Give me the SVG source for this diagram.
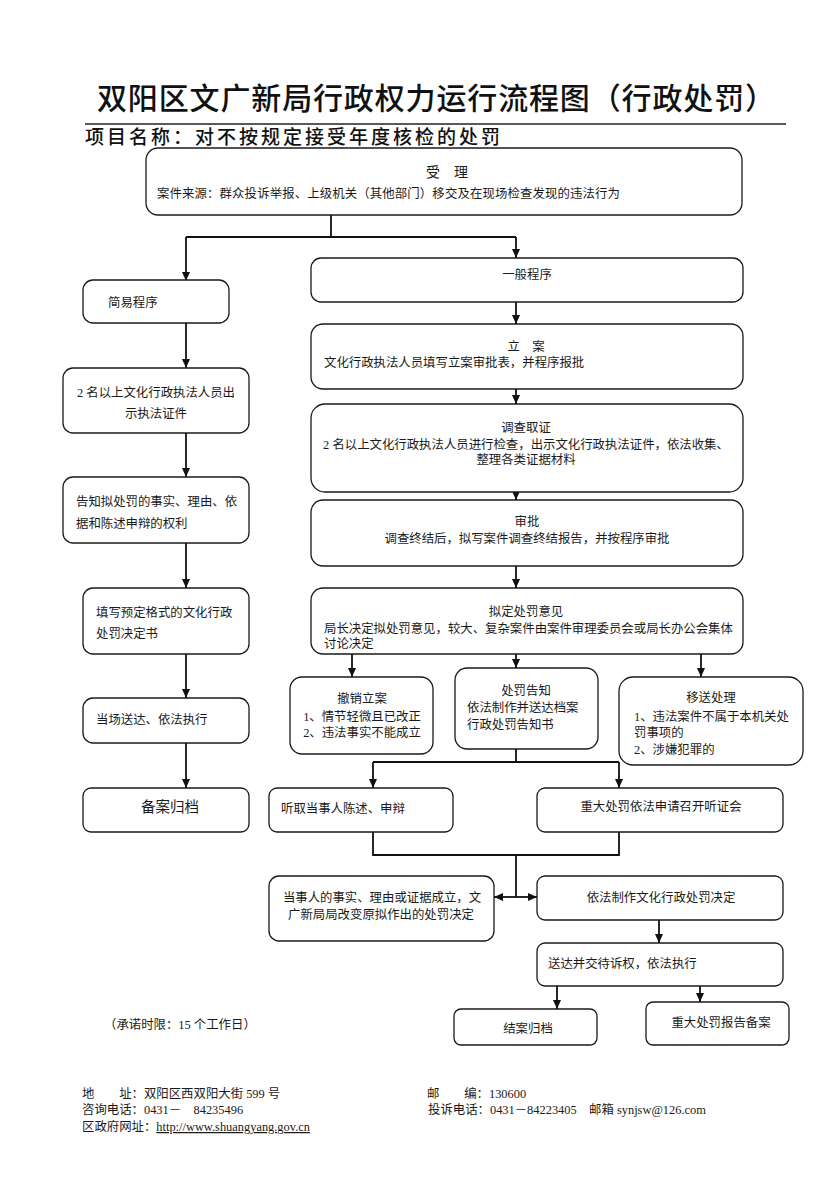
<svg xmlns="http://www.w3.org/2000/svg" width="826" height="1177" viewBox="0 0 826 1177">
<style>
.bg{fill:#fff}
.box{fill:#fff;stroke:#1a1a1a;stroke-width:1.3}
.ln{fill:none;stroke:#111;stroke-width:1.8}
.t{font-family:"Liberation Serif","Noto Sans CJK SC",serif;font-size:12.4px;fill:#1a1a1a}
.c{text-anchor:middle}
.big{font-size:14.5px}
.title{font-family:"Noto Sans CJK SC","Liberation Serif",sans-serif;font-size:30px;font-weight:500;fill:#111}
.sub{font-family:"Noto Sans CJK SC","Liberation Serif",sans-serif;font-size:19px;font-weight:500;fill:#111}
.ft{font-family:"Liberation Serif","Noto Sans CJK SC",serif;font-size:12.4px;fill:#1a1a1a}
</style>
<defs>
<marker id="arr" markerUnits="userSpaceOnUse" markerWidth="10" markerHeight="10" refX="9" refY="4" orient="auto">
<path d="M0,0 L9,4 L0,8 z" fill="#111"/>
</marker>
<linearGradient id="fg" x1="0" y1="0" x2="1" y2="0">
<stop offset="0" stop-color="#333"/>
<stop offset="0.6" stop-color="#777"/>
<stop offset="1" stop-color="#bbb"/>
</linearGradient>
</defs>
<rect class="bg" x="0" y="0" width="826" height="1177"/>

<g id="header">
<text class="title" x="97" y="109" textLength="678" lengthAdjust="spacing">双阳区文广新局行政权力运行流程图（行政处罚）</text>
<line x1="85" y1="124" x2="786" y2="124" stroke="#222" stroke-width="1.3"/>
<text class="sub" x="85" y="144" textLength="415" lengthAdjust="spacing">项目名称：对不按规定接受年度核检的处罚</text>
</g>

<g id="connectors">
<path class="ln" d="M331,215 V237"/>
<path class="ln" d="M186,237 H516"/>
<path class="ln" d="M186,237 V281" marker-end="url(#arr)"/>
<path class="ln" d="M516,237 V258" marker-end="url(#arr)"/>
<path class="ln" d="M186,323 V368" marker-end="url(#arr)"/>
<path class="ln" d="M186,433 V477" marker-end="url(#arr)"/>
<path class="ln" d="M186,543 V588" marker-end="url(#arr)"/>
<path class="ln" d="M186,654 V698" marker-end="url(#arr)"/>
<path class="ln" d="M186,743 V788" marker-end="url(#arr)"/>
<path class="ln" d="M516,302 V324" marker-end="url(#arr)"/>
<path class="ln" d="M516,389 V404" marker-end="url(#arr)"/>
<path class="ln" d="M516,478 V500" marker-end="url(#arr)"/>
<path class="ln" d="M516,566 V588" marker-end="url(#arr)"/>
<path class="ln" d="M352,654 V677" marker-end="url(#arr)"/>
<path class="ln" d="M516,654 V668" marker-end="url(#arr)"/>
<path class="ln" d="M701,654 V677" marker-end="url(#arr)"/>
<path class="ln" d="M516,749 V762"/>
<path class="ln" d="M373,762 H619"/>
<path class="ln" d="M373,762 V788" marker-end="url(#arr)"/>
<path class="ln" d="M619,762 V788" marker-end="url(#arr)"/>
<path class="ln" d="M373,832 V855 H619 V832"/>
<path class="ln" d="M516,855 V897"/>
<path class="ln" d="M516,897 H494" marker-end="url(#arr)"/>
<path class="ln" d="M516,897 H537" marker-end="url(#arr)"/>
<path class="ln" d="M659,920 V943" marker-end="url(#arr)"/>
<path class="ln" d="M557,986 V1009" marker-end="url(#arr)"/>
<path class="ln" d="M700,986 V1002" marker-end="url(#arr)"/>
</g>

<g id="n-accept">
<rect class="box" x="146" y="148" width="596" height="67" rx="12"/>
<text class="t c" x="447" y="177" style="font-size:14px">受　理</text>
<text class="t" x="157" y="197.5" textLength="463" lengthAdjust="spacing">案件来源：群众投诉举报、上级机关（其他部门）移交及在现场检查发现的违法行为</text>
</g>

<g id="n-simple">
<rect class="box" x="83" y="280" width="146" height="43" rx="10"/>
<text class="t" x="108" y="306.5">简易程序</text>
</g>
<g id="n-show-id">
<rect class="box" x="63" y="368" width="186" height="65" rx="10"/>
<text class="t c" x="156" y="396.5">2 名以上文化行政执法人员出</text>
<text class="t c" x="156" y="417.5">示执法证件</text>
</g>
<g id="n-inform">
<rect class="box" x="63" y="477" width="186" height="66" rx="10"/>
<text class="t" x="76" y="505.5">告知拟处罚的事实、理由、依</text>
<text class="t" x="76" y="527.5">据和陈述申辩的权利</text>
</g>
<g id="n-fill">
<rect class="box" x="83" y="588" width="166" height="66" rx="10"/>
<text class="t" x="96" y="616.5">填写预定格式的文化行政</text>
<text class="t" x="96" y="637.5">处罚决定书</text>
</g>
<g id="n-deliver-spot">
<rect class="box" x="83" y="698" width="166" height="45" rx="10"/>
<text class="t" x="96" y="723.5">当场送达、依法执行</text>
</g>
<g id="n-archive-simple">
<rect class="box" x="83" y="788" width="166" height="44" rx="8"/>
<text class="t c big" x="170" y="812">备案归档</text>
</g>

<g id="n-general">
<rect class="box" x="311" y="258" width="432" height="44" rx="10"/>
<text class="t c" x="527" y="278.5">一般程序</text>
</g>
<g id="n-register">
<rect class="box" x="311" y="324" width="432" height="65" rx="12"/>
<text class="t c" x="526" y="350.5">立　案</text>
<text class="t" x="324" y="366.5">文化行政执法人员填写立案审批表，并程序报批</text>
</g>
<g id="n-investigate">
<rect class="box" x="311" y="404" width="432" height="88" rx="14"/>
<text class="t c" x="526" y="431.5">调查取证</text>
<text class="t c" x="526" y="448.5">2 名以上文化行政执法人员进行检查，出示文化行政执法证件，依法收集、</text>
<text class="t c" x="526" y="463.5">整理各类证据材料</text>
</g>
<g id="n-approve">
<rect class="box" x="311" y="500" width="432" height="66" rx="12"/>
<text class="t c" x="527" y="525.5">审批</text>
<text class="t c" x="527" y="542.5">调查终结后，拟写案件调查终结报告，并按程序审批</text>
</g>
<g id="n-draft">
<rect class="box" x="311" y="588" width="432" height="66" rx="12"/>
<text class="t c" x="526" y="615.5">拟定处罚意见</text>
<text class="t" x="324" y="632.5">局长决定拟处罚意见，较大、复杂案件由案件审理委员会或局长办公会集体</text>
<text class="t" x="324" y="647.5">讨论决定</text>
</g>

<g id="n-revoke">
<rect class="box" x="290" y="677" width="143" height="77" rx="12"/>
<text class="t c" x="362" y="702.5">撤销立案</text>
<text class="t c" x="362" y="720.5">1、情节轻微且已改正</text>
<text class="t c" x="362" y="736.5">2、违法事实不能成立</text>
</g>
<g id="n-notice">
<rect class="box" x="455" y="668" width="143" height="81" rx="12"/>
<text class="t c" x="526" y="694.5">处罚告知</text>
<text class="t" x="467" y="711.5">依法制作并送达档案</text>
<text class="t" x="467" y="728.5">行政处罚告知书</text>
</g>
<g id="n-transfer">
<rect class="box" x="619" y="677" width="184" height="88" rx="14"/>
<text class="t c" x="711" y="701.5">移送处理</text>
<text class="t" x="634" y="720.5">1、违法案件不属于本机关处</text>
<text class="t" x="634" y="736.5">罚事项的</text>
<text class="t" x="634" y="753.5">2、涉嫌犯罪的</text>
</g>

<g id="n-hear-party">
<rect class="box" x="269" y="788" width="184" height="44" rx="8"/>
<text class="t" x="281" y="812.5">听取当事人陈述、申辩</text>
</g>
<g id="n-hearing">
<rect class="box" x="537" y="788" width="246" height="44" rx="8"/>
<text class="t c" x="661" y="810.5">重大处罚依法申请召开听证会</text>
</g>
<g id="n-change">
<rect class="box" x="269" y="876" width="225" height="65" rx="10"/>
<text class="t c" x="382" y="901.5">当事人的事实、理由或证据成立，文</text>
<text class="t c" x="381" y="918.5">广新局局改变原拟作出的处罚决定</text>
</g>
<g id="n-decision">
<rect class="box" x="537" y="876" width="246" height="44" rx="8"/>
<text class="t c" x="661" y="901.5">依法制作文化行政处罚决定</text>
</g>
<g id="n-deliver">
<rect class="box" x="537" y="943" width="246" height="43" rx="8"/>
<text class="t" x="548" y="967.5">送达并交待诉权，依法执行</text>
</g>
<g id="n-close">
<rect class="box" x="454" y="1009" width="143" height="36" rx="7"/>
<text class="t c" x="528" y="1032.5">结案归档</text>
</g>
<g id="n-report">
<rect class="box" x="646" y="1002" width="143" height="43" rx="7"/>
<text class="t c" x="721" y="1026.5">重大处罚报告备案</text>
</g>

<g id="note">
<text class="t" x="104" y="1028.5">（承诺时限：15 个工作日）</text>
</g>

<g id="footer">
<line x1="82" y1="1085" x2="826" y2="1085" stroke="url(#fg)" stroke-width="1.6"/>
<text class="ft" x="82" y="1098">地　　址：双阳区西双阳大街 599 号</text>
<text class="ft" x="427" y="1098">邮　　编：130600</text>
<text class="ft" x="82" y="1114">咨询电话：0431－　84235496</text>
<text class="ft" x="428" y="1114">投诉电话：0431－84223405　邮箱 synjsw@126.com</text>
<text class="ft" x="82" y="1131">区政府网址：<tspan text-decoration="underline">http://www.shuangyang.gov.cn</tspan></text>
</g>
</svg>
